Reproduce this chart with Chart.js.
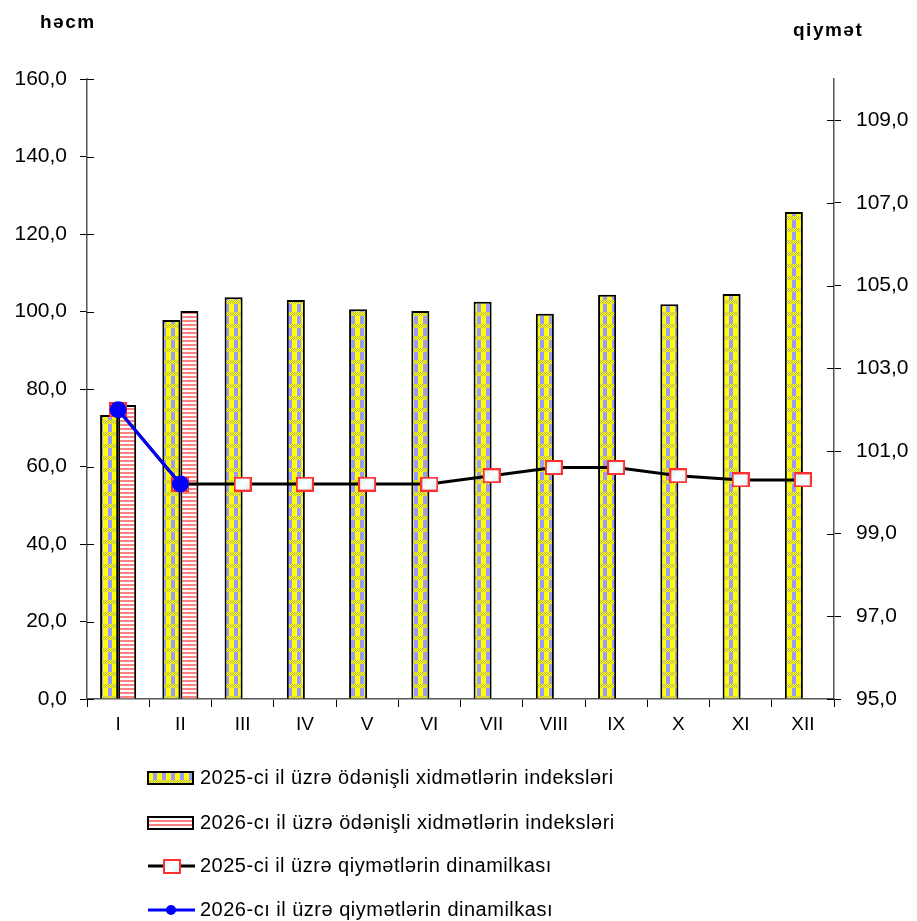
<!DOCTYPE html>
<html>
<head>
<meta charset="utf-8">
<script src="https://cdn.jsdelivr.net/npm/chart.js@4"></script>
<style>
  body { margin: 0; background: #fff; }
  #wrap { width: 917px; height: 921px; }
</style>
</head>
<body>
<div id="wrap"><canvas id="chart" width="917" height="921"></canvas></div>
<script>
const months = ['I', 'II', 'III', 'IV', 'V', 'VI', 'VII', 'VIII', 'IX', 'X', 'XI', 'XII'];
const index2025 = [73.3, 97.8, 103.7, 103.0, 100.6, 100.1, 102.5, 99.4, 104.3, 101.9, 104.5, 125.7];
const index2026 = [75.9, 100.1, null, null, null, null, null, null, null, null, null, null];
const price2025 = [102.0, 100.2, 100.2, 100.2, 100.2, 100.2, 100.4, 100.6, 100.6, 100.4, 100.3, 100.3];
const price2026 = [102.0, 100.2, null, null, null, null, null, null, null, null, null, null];
const rightTicks = [95, 97, 99, 101, 103, 105, 107, 109];
const legendLabels = [
    '2025-ci il üzrə ödənişli xidmətlərin indeksləri',
    '2026-cı il üzrə ödənişli xidmətlərin indeksləri',
    '2025-ci il üzrə qiymətlərin dinamilkası',
    '2026-cı il üzrə qiymətlərin dinamilkası'
];
const leftTitle = 'həcm';
const rightTitle = 'qiymət';

const FONT = '"Liberation Sans", Arial, sans-serif';

// yellow / lavender checked fill of the 2025 bars
let makeCheckPattern = () => {
    const c = document.createElement('canvas');
    c.width = 9; c.height = 12;
    const g = c.getContext('2d');
    g.fillStyle = '#9999ff'; g.fillRect(0, 0, 4, 12);
    g.fillStyle = '#ffff00'; g.fillRect(4, 0, 5, 12);
    for (let y = 0; y < 4; y++) {
        for (let x = 0; x < 9; x++) {
            g.fillStyle = (x + y) % 2 === 0 ? '#b8b870' : '#ffff00';
            g.fillRect(x, y, 1, 1);
        }
    }
    return g.createPattern(c, 'repeat');
};

// pink / white horizontal stripes of the 2026 bars
let makeStripePattern = () => {
    const c = document.createElement('canvas');
    c.width = 4; c.height = 4;
    const g = c.getContext('2d');
    g.fillStyle = '#ffffff'; g.fillRect(0, 0, 4, 4);
    g.fillStyle = '#ff8080'; g.fillRect(0, 0, 4, 2);
    return g.createPattern(c, 'repeat');
};

// red-bordered light square marker
let makeSquareMarker = () => {
    const c = document.createElement('canvas');
    c.width = 18; c.height = 15;
    const g = c.getContext('2d');
    const grd = g.createLinearGradient(0, 0, 18, 15);
    grd.addColorStop(0, '#c4f0f6');
    grd.addColorStop(0.5, '#ffffff');
    grd.addColorStop(1, '#c4f0f6');
    g.fillStyle = grd;
    g.fillRect(1, 1, 16, 13);
    g.strokeStyle = '#ff3030';
    g.lineWidth = 2;
    g.strokeRect(1, 1, 16, 13);
    return c;
};

const checkFill = makeCheckPattern();
const stripeFill = makeStripePattern();
const squareMarker = makeSquareMarker();

const fmt = (v) => v.toFixed(1).replace('.', ',');

// inner halves of tick marks, titles above the axes, legend below the chart
const decorations = {
    id: 'decorations',
    afterDraw(chart) {
        const ctx = chart.ctx;
        const area = chart.chartArea;
        ctx.save();
        ctx.strokeStyle = '#000';
        ctx.lineWidth = 1;
        ['y', 'y1'].forEach(id => {
            const s = chart.scales[id];
            s.ticks.forEach(t => {
                const py = Math.round(s.getPixelForValue(t.value)) + 0.5;
                const x0 = id === 'y' ? area.left : area.right;
                ctx.beginPath();
                ctx.moveTo(x0, py);
                ctx.lineTo(id === 'y' ? x0 + 7 : x0 - 7, py);
                ctx.stroke();
            });
        });

        ctx.fillStyle = '#000';
        ctx.textBaseline = 'middle';
        ctx.textAlign = 'left';
        ctx.font = 'bold 19px ' + FONT;
        ctx.letterSpacing = '1.5px';
        ctx.fillText(leftTitle, 40, 23);
        ctx.fillText(rightTitle, 793, 31);

        const rows = [778, 823, 866, 910];
        ctx.font = '20px ' + FONT;
        ctx.letterSpacing = '0.5px';
        rows.forEach((y, i) => {
            if (i === 0 || i === 1) {
                ctx.fillStyle = i === 0 ? checkFill : stripeFill;
                ctx.fillRect(148, y - 6, 45, 12);
                ctx.strokeStyle = '#000';
                ctx.lineWidth = 2;
                ctx.strokeRect(148, y - 6, 45, 12);
            } else {
                ctx.strokeStyle = i === 2 ? '#000' : '#0000ff';
                ctx.lineWidth = 3;
                ctx.beginPath();
                ctx.moveTo(148, y);
                ctx.lineTo(195, y);
                ctx.stroke();
                if (i === 2) {
                    ctx.drawImage(squareMarker, 163, y - 7);
                } else {
                    ctx.fillStyle = '#0000ff';
                    ctx.beginPath();
                    ctx.arc(171, y, 5, 0, Math.PI * 2);
                    ctx.fill();
                }
            }
            ctx.fillStyle = '#000';
            ctx.fillText(legendLabels[i], 200, y);
        });
        ctx.restore();
    }
};

const ctx = document.getElementById('chart').getContext('2d');
const myChart = new Chart(ctx, {
    data: {
        labels: months,
        datasets: [
            {
                type: 'line',
                label: legendLabels[3],
                data: price2026,
                yAxisID: 'y1',
                borderColor: '#0000ff',
                backgroundColor: '#0000ff',
                borderWidth: 3,
                pointStyle: 'circle',
                pointRadius: 7,
                pointBackgroundColor: '#0000ff',
                pointBorderColor: '#0000ff',
                tension: 0,
                order: 1
            },
            {
                type: 'line',
                label: legendLabels[2],
                data: price2025,
                yAxisID: 'y1',
                borderColor: '#000',
                borderWidth: 3,
                pointStyle: squareMarker,
                tension: 0,
                order: 2
            },
            {
                type: 'bar',
                label: legendLabels[0],
                data: index2025,
                yAxisID: 'y',
                backgroundColor: checkFill,
                borderColor: '#000',
                borderWidth: 2,
                categoryPercentage: 0.58,
                barPercentage: 1,
                order: 3
            },
            {
                type: 'bar',
                label: legendLabels[1],
                data: index2026,
                yAxisID: 'y',
                backgroundColor: stripeFill,
                borderColor: '#000',
                borderWidth: 2,
                categoryPercentage: 0.58,
                barPercentage: 1,
                order: 3
            }
        ]
    },
    options: {
        responsive: false,
        animation: false,
        layout: { padding: { top: 79, bottom: 182, left: 0, right: 0 } },
        plugins: {
            legend: { display: false },
            tooltip: { enabled: false }
        },
        scales: {
            x: {
                grid: { display: true, drawOnChartArea: false, drawTicks: true, tickLength: 8, color: '#000', offset: true },
                border: { display: true, color: '#555', width: 1.5 },
                ticks: { color: '#000', font: { family: FONT, size: 19 }, padding: 6 },
                afterFit: (scale) => { scale.height = 40; }
            },
            y: {
                position: 'left',
                min: 0,
                max: 160,
                ticks: { stepSize: 20, color: '#000', font: { family: FONT, size: 21 }, padding: 13, callback: (v) => fmt(v) },
                grid: { display: true, drawOnChartArea: false, drawTicks: true, tickLength: 7, color: '#000' },
                border: { display: true, color: '#555', width: 1.5 },
                afterFit: (scale) => { scale.width = 87; }
            },
            y1: {
                position: 'right',
                min: 95,
                max: 110,
                ticks: { color: '#000', font: { family: FONT, size: 21 }, padding: 15, callback: (v) => fmt(v) },
                afterBuildTicks: (scale) => { scale.ticks = rightTicks.map(v => ({ value: v })); },
                grid: { display: true, drawOnChartArea: false, drawTicks: true, tickLength: 7, color: '#000' },
                border: { display: true, color: '#555', width: 1.5 },
                afterFit: (scale) => { scale.width = 83; }
            }
        }
    },
    plugins: [decorations]
});
</script>
</body>
</html>
